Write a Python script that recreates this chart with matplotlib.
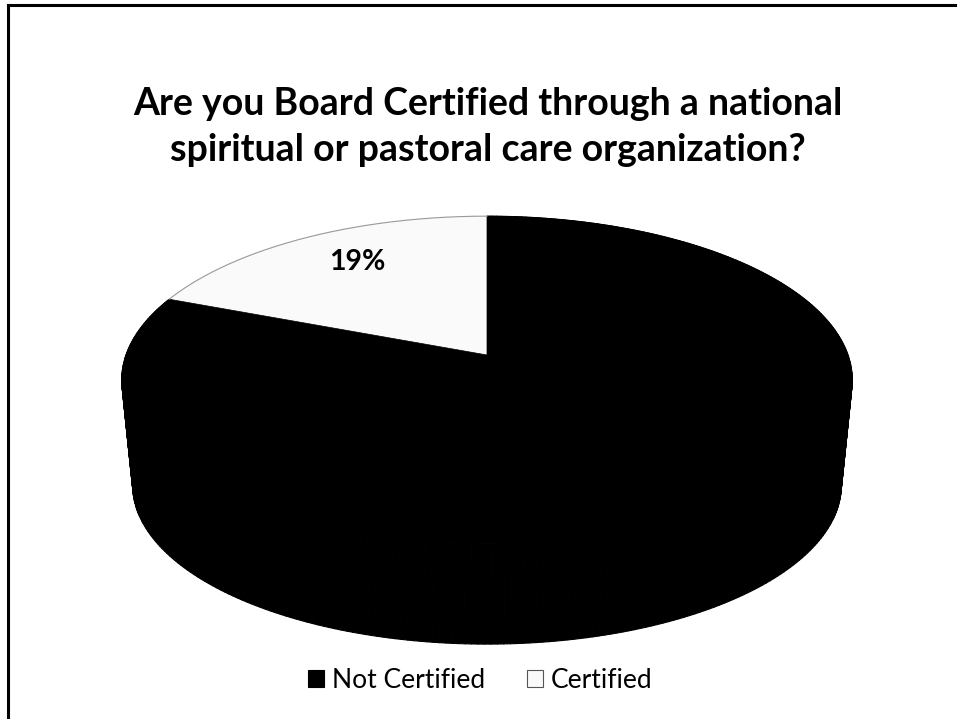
import numpy as np
import matplotlib.pyplot as plt
from matplotlib.patches import Polygon, Patch
from matplotlib.collections import PolyCollection
from matplotlib.lines import Line2D

labels = ['Not Certified', 'Certified']
shares = [81, 19]
colors = ['#000000', '#fafafa']

title = 'Are you Board Certified through a national\nspiritual or pastoral care organization?'

plt.rcParams['font.family'] = ['Lato', 'DejaVu Sans']

fig = plt.figure(figsize=(9.57, 7.19), dpi=100)
ax = fig.add_axes([0, 0, 1, 1])
ax.set_xlim(0, 957)
ax.set_ylim(719, 0)
ax.axis('off')

# 3-D pie seen in perspective (pixel units)
cx, cy = 487, 355        # centre of top face
A, B = 361, 160          # projected radii of top face
D = 6.56                 # camera distance (perspective strength)
cy_bot, s_bot = 461, 0.97  # bottom face centre and shrink


def proj(t, yc, s=1.0):
    u, v = np.cos(t), np.sin(t)
    k = D / (D + v)
    return np.column_stack([cx + s * A * u * k, yc - s * B * v * k])


# slices go counterclockwise from 12 o'clock, Certified first
fracs = np.array(shares[::-1], dtype=float) / sum(shares)
slice_cols = colors[::-1]
bounds = np.pi / 2 + 2 * np.pi * np.concatenate([[0], np.cumsum(fracs)])

# side wall, built from thin strips
quads, qcols = [], []
for i in range(len(fracs)):
    ts = np.linspace(bounds[i], bounds[i + 1], int(400 * fracs[i]) + 2)
    top = proj(ts, cy)
    bot = proj(ts, cy_bot, s_bot)
    for j in range(len(ts) - 1):
        quads.append([top[j], top[j + 1], bot[j + 1], bot[j]])
        qcols.append(slice_cols[i])
ax.add_collection(PolyCollection(quads, facecolors=qcols, edgecolors=qcols, linewidths=0.8))

# top faces
for i in range(len(fracs)):
    ts = np.linspace(bounds[i], bounds[i + 1], 300)
    pts = np.vstack([[cx, cy], proj(ts, cy)])
    ax.add_patch(Polygon(pts, closed=True, facecolor=slice_cols[i],
                         edgecolor=slice_cols[i], lw=0.5))
    if slice_cols[i] != '#000000':
        arc = proj(ts, cy)
        ax.plot(arc[:, 0], arc[:, 1], color='#9a9a9a', lw=0.8)

# data label for the Certified slice
mid = (bounds[0] + bounds[1]) / 2
lx, ly = cx + 0.64 * A * np.cos(mid), cy - 0.70 * B * np.sin(mid)
ax.text(lx, ly, f'{shares[1]}%', ha='center', va='center',
        fontsize=20.5, fontweight='bold', color='black')

ax.text(488, 127, title, ha='center', va='center', fontsize=27,
        fontweight='bold', linespacing=1.45)

handles = [Patch(facecolor=c, edgecolor='#555555' if c != '#000000' else 'black', lw=0.8)
           for c in colors]
fig.legend(handles, labels, loc='center', bbox_to_anchor=(480.5 / 957, 1 - 680 / 719),
           ncol=2, frameon=False, fontsize=19, handlelength=0.6, handleheight=0.6,
           handletextpad=0.3, columnspacing=1.6)

# frame (top and left edges only)
fig.add_artist(Line2D([8 / 957, 1], [1 - 5 / 719, 1 - 5 / 719], color='black', lw=2.2))
fig.add_artist(Line2D([8 / 957, 8 / 957], [0, 1 - 5 / 719], color='black', lw=2.2))

fig.savefig('out.png', dpi=100)
